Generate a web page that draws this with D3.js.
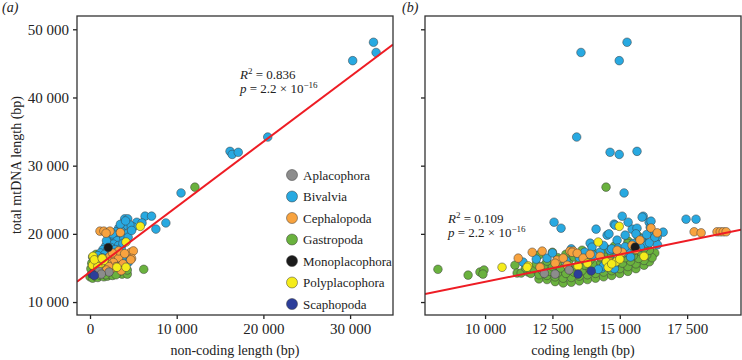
<!DOCTYPE html>
<html lang="en">
  <head>
    <meta charset="utf-8" />
    <title>mtDNA length vs coding / non-coding length</title>
    <script src="https://d3js.org/d3.v7.min.js"></script>
    <style type="text/css">
      body {
        margin: 0;
        background: white;
      }
      text {
        font-family: "Liberation Serif", "DejaVu Serif", serif;
        fill: #222;
      }
      .tick text {
        font-size: 15px;
      }
      .axisTitle {
        font-size: 14px;
      }
      .legend text {
        font-size: 13px;
      }
      .stat {
        font-size: 13px;
      }
    </style>
  </head>
  <body>
    <script type="text/javascript">
      const w = 742;
      const h = 360;

      // Define Data
      const groups = ["Aplacophora", "Bivalvia", "Cephalopoda", "Gastropoda",
        "Monoplacophora", "Polyplacophora", "Scaphopoda"];
      const groupColors = ["#8c8c8c", "#28a9e1", "#f8a33f", "#6ab23e",
        "#1b1b1b", "#f5ec1a", "#2c3e9a"];

      // panel (a): [non-coding length, total length]
      const ncAplacophora = [[1050, 14500], [2200, 14400], [1300, 14100]];
      const ncBivalvia = [
        [32700, 48100], [33000, 46600], [30300, 45400], [20500, 34200],
        [16150, 32100], [16400, 31650], [17100, 31960], [10500, 26000],
        [8750, 21600], [7600, 20700], [6350, 22600], [7100, 22600],
        [4000, 22200], [4350, 22200], [5400, 21700], [6000, 21600],
        [5000, 21000], [4600, 21300], [3800, 21000], [3300, 20800],
        [3000, 20300], [3600, 20400], [4200, 20000], [2800, 19700],
        [3400, 19600], [2500, 19200], [3100, 19000], [3900, 19300],
        [2200, 18700], [2700, 18500], [3300, 18300], [1800, 18200],
        [2400, 18000], [1500, 17700], [2000, 17500], [2900, 17700],
        [3600, 17900], [1200, 17200], [1700, 17000], [2500, 17100],
        [3100, 17200], [900, 16800], [1400, 16500], [2200, 16600],
        [600, 16300], [1100, 16000], [3800, 18600], [4400, 19500],
        [4800, 20500], [3500, 21400], [2600, 20000], [1900, 19000],
        [3700, 16800], [4100, 16300], [4400, 15800], [3300, 16000],
        [500, 15600], [1000, 15300], [2000, 16200], [4100, 21900]
      ];
      const ncCephalopoda = [
        [1150, 20400], [1600, 20400], [2300, 20400], [3500, 20200],
        [1850, 20100], [4700, 17300], [5000, 17500], [4800, 16400],
        [4700, 16200], [2300, 16700], [2900, 16400], [3300, 16500],
        [2700, 15800], [3000, 15200], [3600, 15300], [2000, 15600],
        [1600, 15900], [1300, 16200], [2500, 14900], [2200, 15200],
        [3800, 15600], [3300, 17500], [2600, 17200], [4000, 17100],
        [1900, 14700], [3600, 14600]
      ];
      const ncGastropoda = [
        [12100, 26850], [6200, 14800], [3700, 14100], [4300, 14100],
        [4300, 14700], [0, 13700], [300, 13500], [600, 13800],
        [900, 13600], [1200, 13900], [1600, 13700], [2000, 13800],
        [2400, 14000], [2800, 14200], [200, 14200], [500, 14500],
        [800, 14300], [1100, 14600], [1500, 14400], [1900, 14600],
        [2300, 14700], [2700, 14500], [100, 14900], [400, 15200],
        [700, 15000], [1000, 15500], [1300, 15100], [1700, 15300],
        [200, 15700], [600, 16000], [900, 16400], [1300, 16700],
        [1600, 17300], [1900, 17800], [2200, 18200], [300, 16600],
        [700, 17000], [1000, 15800], [1400, 14900], [3200, 14300],
        [2600, 13900], [3000, 14000], [1800, 14000]
      ];
      const ncMonoplacophora = [[2100, 18000]];
      const ncPolyplacophora = [
        [5800, 21100], [4150, 18800], [3100, 15100], [4150, 15100],
        [350, 16700], [700, 15800], [1200, 15600], [1600, 16100],
        [300, 15400], [900, 15200], [500, 16200], [1400, 16400]
      ];
      const ncScaphopoda = [[250, 14100], [500, 13900]];

      // panel (b): [coding length, total length]
      const cdAplacophora = [[13120, 14700], [12200, 14200], [12600, 14100]];
      const cdBivalvia = [
        [15270, 48100], [13560, 46600], [14980, 45400], [13400, 34200],
        [14640, 31960], [14980, 31650], [15640, 32100], [15160, 26000],
        [12560, 21710], [12820, 20830], [14120, 20690], [15090, 22590],
        [15870, 22590], [16610, 20250], [14790, 21420], [14530, 19810],
        [14900, 19080], [15200, 19810], [15460, 20690], [15640, 20830],
        [16090, 21710], [16130, 20980], [16240, 19960], [16390, 19520],
        [15980, 18640], [15760, 18050], [13900, 18640], [13970, 18050],
        [14270, 17320], [14640, 17610], [14940, 17910], [15270, 17320],
        [11410, 15860], [12300, 16440], [14340, 14980], [15310, 21710],
        [14830, 21270], [16160, 21860], [17460, 22150], [17830, 22150],
        [15830, 22450], [15500, 18600], [16100, 18700], [16400, 18400],
        [14400, 18300], [14700, 17800], [15200, 18100], [13700, 17300],
        [14000, 16900], [13500, 16500], [14900, 16800], [11900, 16300],
        [13000, 16100], [14400, 15300], [14800, 14900], [15400, 16600],
        [14200, 14800], [12500, 17200], [16300, 19500], [13200, 17800],
        [15800, 19300], [16000, 19900], [14600, 20000], [15600, 20000]
      ];
      const cdCephalopoda = [
        [17760, 20300], [18020, 20150], [18610, 20300], [18730, 20300],
        [18840, 20300], [18950, 20300], [16160, 20850], [16390, 20150],
        [11230, 16440], [11750, 17300], [12120, 17470], [13150, 17470],
        [13270, 17470], [12670, 16150], [12900, 16440], [13230, 17300],
        [13420, 17150], [13640, 16440], [13900, 17000], [14270, 16700],
        [14640, 15860], [14940, 16440], [15090, 17300], [15460, 18340],
        [15750, 19080], [14900, 17600], [12040, 15100], [12600, 15700],
        [13050, 15400], [15600, 17700]
      ];
      const cdGastropoda = [
        [8250, 14800], [9370, 13950], [9810, 14400], [9960, 14700],
        [9920, 14100], [11110, 15400], [11190, 14250], [11340, 14250],
        [14490, 26850], [15680, 19660], [15310, 18930], [15500, 18340],
        [15300, 18600], [14800, 18200], [14500, 17300], [11600, 14400],
        [12000, 13400], [16300, 17200],
        [12300, 13300], [12600, 13000], [12900, 12800], [13200, 12900],
        [13500, 13100], [13800, 13300], [14100, 13500], [14400, 13700],
        [14700, 13900], [15000, 14200], [15300, 14500], [15600, 14900],
        [15900, 15400], [16100, 15900],
        [11700, 14200], [12000, 14000], [12300, 13900], [12600, 13700],
        [12900, 13500], [13200, 13600], [13500, 13800], [13800, 14000],
        [14100, 14200], [14400, 14400], [14700, 14600], [15000, 14900],
        [15300, 15200], [15600, 15600], [15900, 16100], [16200, 16500],
        [11500, 15000], [11800, 14900], [12100, 14700], [12400, 14500],
        [12700, 14300], [13000, 14200], [13300, 14400], [13600, 14600],
        [13900, 14800], [14200, 15000], [14500, 15200], [14800, 15400],
        [15100, 15700], [15400, 16000], [15700, 16400], [16000, 16900],
        [11900, 15600], [12200, 15400], [12500, 15200], [12800, 15000],
        [13100, 15000], [13400, 15200], [13700, 15400], [14000, 15600],
        [14300, 15800], [14600, 16000], [14900, 16200], [15200, 16500],
        [15500, 16800], [15800, 17300], [16100, 17600],
        [12300, 16000], [12700, 15800], [13100, 15900], [13500, 16000],
        [13900, 16200], [14300, 16500], [14700, 16800], [15100, 17100],
        [15500, 17500], [15900, 17900],
        [12000, 16900], [12500, 17300], [13000, 17000], [13600, 17600],
        [14000, 17300], [14500, 17800], [13300, 16600], [12700, 16500]
      ];
      const cdMonoplacophora = [[15570, 18050]];
      const cdPolyplacophora = [
        [14200, 18800], [14980, 21100], [15900, 16700], [11600, 15300],
        [13450, 15300], [13800, 15700], [14500, 15900], [14570, 15100],
        [14860, 15900], [10630, 15100], [11560, 15100], [15000, 16300],
        [14700, 15600]
      ];
      const cdScaphopoda = [[13450, 14100], [13940, 14550]];

      // regression fits: [intercept, slope]
      const fitA = [14400, 0.955];
      const fitB = [4930, 0.803];

      // Tick values
      const yTicks = [10000, 20000, 30000, 40000, 50000];
      const xTicksA = [0, 10000, 20000, 30000];
      const xTicksB = [10000, 12500, 15000, 17500];

      const panelAData = [ncAplacophora, ncBivalvia, ncCephalopoda, ncGastropoda,
        ncMonoplacophora, ncPolyplacophora, ncScaphopoda];
      const panelBData = [cdAplacophora, cdBivalvia, cdCephalopoda, cdGastropoda,
        cdMonoplacophora, cdPolyplacophora, cdScaphopoda];

      // draw order of the groups (index into groups)
      const drawOrder = [3, 1, 2, 5, 0, 6, 4];

      const fmt = d3.formatLocale({
        decimal: ".",
        thousands: " ",
        grouping: [3],
        currency: ["", ""]
      }).format(",");

      const color = d3.scaleOrdinal().domain(groups).range(groupColors);

      // Scales
      const yScale = d3.scaleLinear().domain([8100, 51950]).range([315, 16]);
      const xScaleA = d3.scaleLinear().domain([-1500, 34950]).range([77, 393]);
      const xScaleB = d3.scaleLinear().domain([7770, 19500]).range([425, 741]);

      // Create SVG
      const svg = d3
        .select("body")
        .append("svg")
        .attr("width", w)
        .attr("height", h);

      function drawPanel(id, xScale, xTicks, data, fit, showYLabels) {
        const [x0, x1] = xScale.range();
        const [y1, y0] = yScale.range();
        const g = svg.append("g").attr("class", "panel");

        g.append("defs")
          .append("clipPath")
          .attr("id", "clip" + id)
          .append("rect")
          .attr("x", x0)
          .attr("y", y0)
          .attr("width", x1 - x0)
          .attr("height", y1 - y0);

        // points
        const pts = g.append("g").attr("clip-path", "url(#clip" + id + ")");
        drawOrder.forEach(function (gi) {
          pts
            .selectAll("circle.g" + gi)
            .data(data[gi])
            .enter()
            .append("circle")
            .attr("class", "g" + gi)
            .attr("cx", function (d) { return xScale(d[0]); })
            .attr("cy", function (d) { return yScale(d[1]); })
            .attr("r", 4.3)
            .attr("fill", color(groups[gi]))
            .attr("stroke", "#3a3a3a")
            .attr("stroke-width", 0.5);
        });

        // regression line
        const xd = xScale.domain();
        pts
          .append("line")
          .attr("x1", xScale(xd[0]))
          .attr("y1", yScale(fit[0] + fit[1] * xd[0]))
          .attr("x2", xScale(xd[1]))
          .attr("y2", yScale(fit[0] + fit[1] * xd[1]))
          .attr("stroke", "#ee1c24")
          .attr("stroke-width", 2);

        // axes
        const xAxis = d3.axisBottom(xScale)
          .tickValues(xTicks)
          .tickSize(4)
          .tickSizeOuter(0)
          .tickPadding(4)
          .tickFormat(fmt);
        const yAxis = d3.axisLeft(yScale)
          .tickValues(yTicks)
          .tickSize(4)
          .tickSizeOuter(0)
          .tickPadding(4)
          .tickFormat(showYLabels ? fmt : "");

        const gx = g.append("g")
          .attr("transform", "translate(0," + y1 + ")")
          .call(xAxis);
        const gy = g.append("g")
          .attr("transform", "translate(" + x0 + ",0)")
          .call(yAxis);
        [gx, gy].forEach(function (a) {
          a.select(".domain").remove();
          a.selectAll(".tick line").attr("stroke", "#222").attr("stroke-width", 1.3);
          a.selectAll(".tick text").attr("font-family", null).attr("font-size", null);
        });

        // frame
        g.append("rect")
          .attr("x", x0)
          .attr("y", y0)
          .attr("width", x1 - x0)
          .attr("height", y1 - y0)
          .attr("fill", "none")
          .attr("stroke", "#333")
          .attr("stroke-width", 1.3);
      }

      drawPanel("a", xScaleA, xTicksA, panelAData, fitA, true);
      drawPanel("b", xScaleB, xTicksB, panelBData, fitB, false);

      // Panel labels
      svg.append("text").attr("x", 2).attr("y", 12)
        .style("font-size", "14px").style("font-style", "italic")
        .text("(a)");
      svg.append("text").attr("x", 402).attr("y", 12)
        .style("font-size", "14px").style("font-style", "italic")
        .text("(b)");

      // Axis titles
      svg.append("text")
        .attr("class", "axisTitle")
        .attr("transform", "translate(21,165) rotate(-90)")
        .attr("text-anchor", "middle")
        .text("total mtDNA length (bp)");
      svg.append("text")
        .attr("class", "axisTitle")
        .attr("x", 235)
        .attr("y", 355)
        .attr("text-anchor", "middle")
        .text("non-coding length (bp)");
      svg.append("text")
        .attr("class", "axisTitle")
        .attr("x", 583)
        .attr("y", 355)
        .attr("text-anchor", "middle")
        .text("coding length (bp)");

      // Statistics labels
      function statLabel(x, y, r2) {
        const t1 = svg.append("text").attr("class", "stat").attr("x", x).attr("y", y);
        t1.append("tspan").style("font-style", "italic").text("R");
        t1.append("tspan").attr("dy", -5).style("font-size", "9px").text("2");
        t1.append("tspan").attr("dy", 5).text(" = " + r2);
        const t2 = svg.append("text").attr("class", "stat").attr("x", x).attr("y", y + 14);
        t2.append("tspan").style("font-style", "italic").text("p");
        t2.append("tspan").text(" = 2.2 \u00d7 10");
        t2.append("tspan").attr("dy", -5).style("font-size", "9px").text("\u221216");
      }
      statLabel(240, 79, "0.836");
      statLabel(448, 223, "0.109");

      // Legend
      const legend = svg.append("g").attr("class", "legend");
      const items = legend
        .selectAll("g")
        .data(groups)
        .enter()
        .append("g")
        .attr("transform", function (d, i) {
          return "translate(292," + (175 + i * 21.5) + ")";
        });
      items
        .append("circle")
        .attr("r", 5.5)
        .attr("fill", function (d) { return color(d); })
        .attr("stroke", "#3a3a3a")
        .attr("stroke-width", 0.5);
      items
        .append("text")
        .attr("x", 11)
        .attr("dy", "0.35em")
        .text(function (d) { return d; });
    </script>
  </body>
</html>
